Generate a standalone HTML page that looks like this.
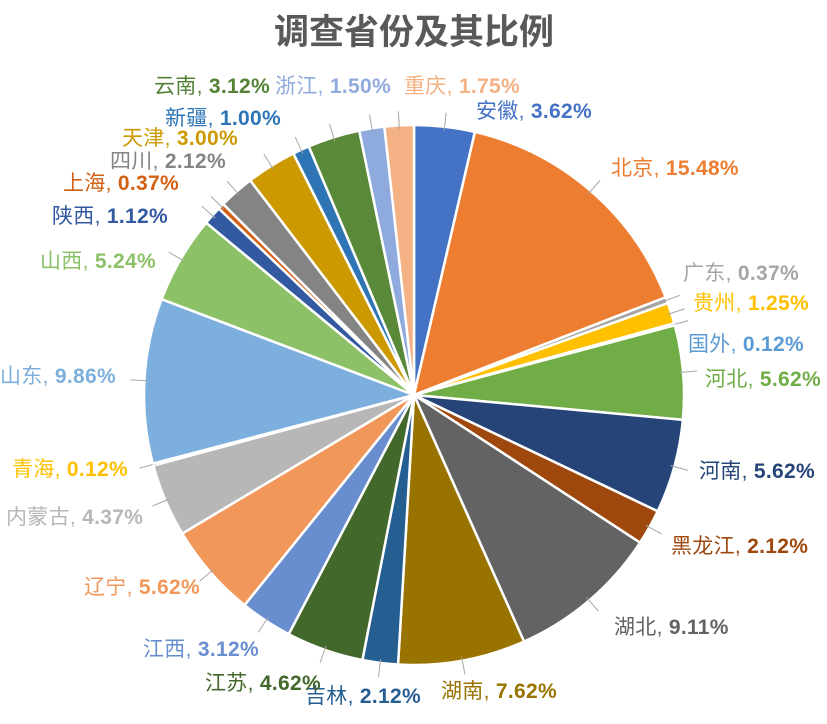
<!DOCTYPE html>
<html><head><meta charset="utf-8"><style>
html,body{margin:0;padding:0;background:#fff;}
svg text{font-family:"Liberation Sans","Noto Sans CJK SC",sans-serif;font-size:21px;letter-spacing:0.3px;}
</style></head><body>
<svg id="s" width="827" height="719" viewBox="0 0 827 719" xmlns="http://www.w3.org/2000/svg">
<rect width="827" height="719" fill="#fff"/>
<text x="414" y="44" text-anchor="middle" style="font-size:35px;font-weight:bold;fill:#595959;letter-spacing:0">调查省份及其比例</text>
<g id="pie"></g>
<g id="lbl">
<text x="476" y="118" fill="#4472C4">安徽, <tspan font-weight="bold">3.62%</tspan></text>
<text x="611" y="175" fill="#ED7D31">北京, <tspan font-weight="bold">15.48%</tspan></text>
<text x="683" y="280" fill="#A5A5A5">广东, <tspan font-weight="bold">0.37%</tspan></text>
<text x="693" y="310" fill="#FFC000">贵州, <tspan font-weight="bold">1.25%</tspan></text>
<text x="688" y="351" fill="#5B9BD5">国外, <tspan font-weight="bold">0.12%</tspan></text>
<text x="705" y="386" fill="#70AD47">河北, <tspan font-weight="bold">5.62%</tspan></text>
<text x="699" y="478" fill="#264478">河南, <tspan font-weight="bold">5.62%</tspan></text>
<text x="671" y="553" fill="#9E480E">黑龙江, <tspan font-weight="bold">2.12%</tspan></text>
<text x="614" y="634" fill="#636363">湖北, <tspan font-weight="bold">9.11%</tspan></text>
<text x="441" y="698" fill="#997300">湖南, <tspan font-weight="bold">7.62%</tspan></text>
<text x="305" y="703" fill="#255E91">吉林, <tspan font-weight="bold">2.12%</tspan></text>
<text x="205" y="690" fill="#43682B">江苏, <tspan font-weight="bold">4.62%</tspan></text>
<text x="143" y="656" fill="#698ED0">江西, <tspan font-weight="bold">3.12%</tspan></text>
<text x="84" y="594" fill="#F1975A">辽宁, <tspan font-weight="bold">5.62%</tspan></text>
<text x="6" y="524" fill="#B7B7B7">内蒙古, <tspan font-weight="bold">4.37%</tspan></text>
<text x="12" y="476" fill="#FFC000">青海, <tspan font-weight="bold">0.12%</tspan></text>
<text x="0" y="383" fill="#7CAFDD">山东, <tspan font-weight="bold">9.86%</tspan></text>
<text x="40" y="268" fill="#8CC168">山西, <tspan font-weight="bold">5.24%</tspan></text>
<text x="52" y="223" fill="#335AA1">陕西, <tspan font-weight="bold">1.12%</tspan></text>
<text x="63" y="190" fill="#D26012">上海, <tspan font-weight="bold">0.37%</tspan></text>
<text x="110" y="168" fill="#848484">四川, <tspan font-weight="bold">2.12%</tspan></text>
<text x="122" y="145" fill="#CC9A00">天津, <tspan font-weight="bold">3.00%</tspan></text>
<text x="165" y="125" fill="#2E75B6">新疆, <tspan font-weight="bold">1.00%</tspan></text>
<text x="154" y="93" fill="#548235">云南, <tspan font-weight="bold">3.12%</tspan></text>
<text x="275" y="93" fill="#8FAADC">浙江, <tspan font-weight="bold">1.50%</tspan></text>
<text x="404" y="93" fill="#F4B183">重庆, <tspan font-weight="bold">1.75%</tspan></text>
</g>
</svg>
<script>
var d=[[3.62,"#4472C4"],[15.48,"#ED7D31"],[0.37,"#A5A5A5"],[1.25,"#FFC000"],[0.12,"#5B9BD5"],[5.62,"#70AD47"],[5.62,"#264478"],[2.12,"#9E480E"],[9.11,"#636363"],[7.62,"#997300"],[2.12,"#255E91"],[4.62,"#43682B"],[3.12,"#698ED0"],[5.62,"#F1975A"],[4.37,"#B7B7B7"],[0.12,"#FFCD33"],[9.86,"#7CAFDD"],[5.24,"#8CC168"],[1.12,"#335AA1"],[0.37,"#D26012"],[2.12,"#848484"],[3.00,"#CC9A00"],[1.00,"#2E75B6"],[3.12,"#5A8A39"],[1.50,"#8FAADC"],[1.75,"#F4B183"]];
var tot=0;d.forEach(function(e){tot+=e[0];});
var cx=414,cy=395,r=270,a=0,h="";
function pt(t,rr){return [cx+rr*Math.sin(t),cy-rr*Math.cos(t)];}
d.forEach(function(e){
 var a2=a+e[0]/tot*2*Math.PI;
 var p1=pt(a,r),p2=pt(a2,r),lg=(a2-a)>Math.PI?1:0;
 h+='<path d="M'+cx+','+cy+'L'+p1[0].toFixed(2)+','+p1[1].toFixed(2)+'A'+r+','+r+' 0 '+lg+' 1 '+p2[0].toFixed(2)+','+p2[1].toFixed(2)+'Z" fill="'+e[1]+'" stroke="#fff" stroke-width="2.5" stroke-linejoin="round"/>';
 var m=(a+a2)/2,q1=pt(m,r-4),q2=pt(m,r+14);
 h+='<line x1="'+q1[0].toFixed(1)+'" y1="'+q1[1].toFixed(1)+'" x2="'+q2[0].toFixed(1)+'" y2="'+q2[1].toFixed(1)+'" stroke="#a6a6a6" stroke-width="1"/>';
 a=a2;
});
document.getElementById("pie").innerHTML=h;
</script>
</body></html>
